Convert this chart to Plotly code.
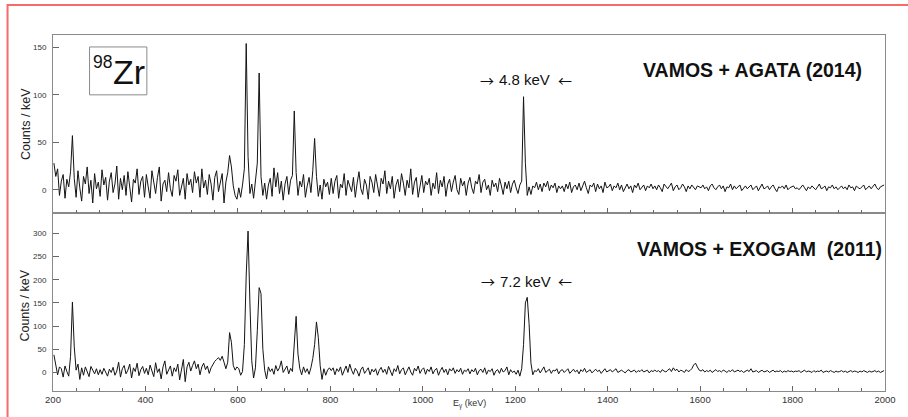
import plotly.graph_objects as go

# Histogram binning (keV)
E_MIN = 200
E_MAX = 2000
BIN_KEV = 4

# 98Zr gamma spectrum, VAMOS + AGATA (2014), counts per bin (4 keV bins from 200 keV)
agata_counts = [
    28, 14, 22, -6, 9, 16, -9, 11, 3, 19, 57, 12, -8, 20, 2, -12, 14, 6, 24, -4, 10, -14, 17, 1, 8,
    -7, 21, 5, 13, -11, 9, 18, -3, 6, 25, -10, 12, 0, 15, -6, 19, 4, -13, 11, 7, 22, -5, 9, 14, -8,
    16, 3, -9, 20, 8, -4, 13, 24, -12, 6, 10, -2, 18, 1, -7, 15, 9, 21, -6, 4, 12, -10, 17, 5, 11,
    -3, 19, 7, 14, -8, 22, 2, 10, -5, 16, 6, -11, 13, 20, -2, 9, 17, -14, 8, 18, 36, 24, 4, -6, -10,
    2, -8, 5, 22, 154, 35, -4, 6, -9, 8, 28, 123, 14, -6, 7, -10, 5, 12, -7, 23, 3, 18, -4, 9, -11,
    6, 14, -5, 10, 15, 83, 18, -6, 9, 3, 16, -8, 4, 13, -3, 20, 54, 14, -7, 5, -10, 11, 3, 8, -5,
    12, -4, 9, 15, -9, 6, 2, 17, -6, 10, 4, -2, 13, -8, 7, 19, 1, -5, 11, 5, -10, 14, 8, -3, 16,
    3, -7, 12, 6, 20, -4, 9, 1, 14, -9, 5, 11, -2, 17, 7, -6, 10, 2, 22, -5, 8, 13, -8, 4, 15,
    -3, 9, 5, 12, -6, 7, 1, 18, -4, 10, 3, 14, -7, 6, 11, -2, 8, 15, 0, -5, 12, 4, 9, -6, 7,
    13, 2, -4, 9, 6, 16, -3, 8, 11, 0, 5, -6, 10, 3, 7, -2, 12, 4, -5, 8, 1, 9, -3, 6, 10,
    2, -4, 5, 9, 98, 28, -6, 3, -5, 4, 2, 8, 0, 6, -2, 7, 3, 9, -1, 5, 2, 7, -3, 4, 1,
    4, -2, 6, 1, 8, -3, 3, 5, 0, 7, -1, 4, 9, 2, -4, 5, 3, 7, -2, 6, 1, 4, -3, 8, 2,
    3, 6, -1, 4, 2, 7, 0, 5, -2, 3, 6, 1, 4, -3, 5, 2, 7, 0, 3, 5, -1, 4, 2, 6, 1,
    4, 0, 5, 2, -2, 6, 3, 1, 4, 7, -1, 3, 5, 0, 2, 6, 3, -2, 4, 1, 5, 2, 0, 4, 3,
    2, 5, 1, 3, -1, 4, 6, 2, 0, 3, 5, 1, 4, -2, 3, 2, 6, 0, 4, 1, 3, 5, -1, 2, 4,
    1, 3, 5, 0, 2, 4, -1, 3, 6, 1, 2, 4, 0, 3, 5, 1, -2, 3, 2, 4, 1, 5, 0, 2, 3,
    4, 1, 2, 0, 3, 5, 2, -1, 3, 1, 4, 2, 0, 3, 6, 1, 2, 4, -1, 3, 2, 5, 1, 3, 0,
    2, 4, 1, 3, 0, 5, 2, 3, -1, 4, 2, 1, 3, 5, 0, 2, 4, 1, 3, 6, 2, 0, 3, 4, 5,
]

# VAMOS + EXOGAM (2011), counts per bin (4 keV bins from 200 keV)
exogam_counts = [
    38, 15, -5, 12, 8, -10, 14, 2, -8, 35, 152, 55, 5, 18, -15, 10, -6, 12, 0, -9, 13, 4, -3, 8, -5,
    6, -4, 9, 2, -8, 7, 0, 11, -6, 3, 22, -10, 8, 15, -3, 5, 18, -12, 10, 2, 20, -7, 6, 13, -2,
    9, -5, 16, 4, -9, 21, 0, 8, -14, 12, 25, -4, 6, 14, -8, 10, 2, 18, -16, 5, 28, -20, 12, 22, 3,
    15, 25, 8, 18, -5, 12, 20, 6, 14, -2, 10, 18, 24, 28, 32, 26, 35, 22, 8, 22, 86, 65, 15, 5, 12,
    8, -6, 2, 60, 210, 305, 150, 25, -12, 10, 90, 183, 170, 50, 5, -14, 12, 2, 8, -4, 15, 3, 10, 25, 0,
    6, 14, -3, 9, 2, 65, 121, 40, 8, -5, 12, 0, 8, -4, 10, 30, 60, 109, 75, 15, -15, 8, -6, 5, 10,
    4, 10, -5, 8, 2, 12, -6, 6, 14, 0, 18, 5, -4, 9, 3, -8, 6, 12, -2, 4, 10, -5, 7, 1, 8,
    -6, 5, 11, 0, 7, -4, 13, 3, -7, 8, 2, 15, -3, 6, 10, -5, 4, 12, 1, -6, 9, 3, 14, -2, 6,
    10, -4, 7, 2, 12, -3, 5, 9, -6, 4, 11, 0, 7, -5, 8, 3, 10, -2, 6, 1, 9, -4, 5, 2, 8,
    -3, 6, 1, 9, -5, 4, 7, 0, 10, -4, 5, 2, 8, -6, 3, 6, -2, 9, 1, 4, 12, -5, 6, 0, 3,
    -4, 5, -8, 8, 60, 150, 162, 105, 20, -5, 4, 2, 8, -1, 5, 12, 0, 4, 7, -2, 5, 3, 8, -3, 4,
    6, 0, 4, 8, -2, 3, 7, 1, 5, -3, 6, 2, 9, 0, 4, 6, -1, 3, 7, 2, 5, -2, 4, 8, 1,
    3, 6, 1, 4, 8, 0, 3, 5, 2, -1, 4, 6, 1, 3, 5, 0, 4, 2, 6, 1, 3, 5, -1, 4, 2,
    5, 2, 4, 0, 6, 3, 1, 5, 8, 2, 10, 4, 7, 1, 5, 3, 0, 6, 2, 4, 8, 16, 20, 12, 5,
    3, 6, 1, 4, 2, 5, 0, 3, 6, 2, 4, 1, 5, 3, 0, 4, 2, 6, 1, 3, 5, 2, 4, 0, 3,
    5, 2, 8, 1, 3, 4, 0, 2, 5, 1, 3, 4, 0, 2, 5, 1, 3, 2, 4, 0, 3, 1, 4, 2, 3,
    1, 3, 2, 4, 0, 2, 5, 1, 3, 2, 0, 4, 1, 3, 2, 5, 0, 2, 3, 1, 4, 2, 0, 3, 1,
    2, 4, 1, 3, 0, 2, 4, 1, 3, 2, 0, 3, 1, 4, 2, 0, 3, 1, 2, 4, 1, 3, 0, 2, 4,
]

x_tick_vals = [200, 400, 600, 800, 1000, 1200, 1400, 1600, 1800, 2000]
y_ticks_agata = [0, 50, 100, 150]
y_ticks_exogam = [0, 50, 100, 150, 200, 250, 300]

n_bins = (E_MAX - E_MIN) // BIN_KEV
assert len(agata_counts) == n_bins and len(exogam_counts) == n_bins

centers = [E_MIN + BIN_KEV * (i + 0.5) for i in range(n_bins)]

FONT = "Liberation Sans, Arial, Helvetica, sans-serif"
ARROW_FONT = "Noto Sans CJK SC, DejaVu Sans, sans-serif"
LINE = "rgb(20,20,20)"
FRAME = "#8a8a8a"
TICKC = "#666666"

fig = go.Figure()
fig.add_trace(go.Scatter(x=centers, y=agata_counts, mode="lines", xaxis="x2", yaxis="y2",
                         line=dict(shape="linear", color=LINE, width=1),
                         showlegend=False, hoverinfo="skip"))
fig.add_trace(go.Scatter(x=centers, y=exogam_counts, mode="lines", xaxis="x", yaxis="y",
                         line=dict(shape="linear", color=LINE, width=1),
                         showlegend=False, hoverinfo="skip"))

W, H = 908, 417
L, R, T, B = 53, 13, 35, 25
split = (392 - 213) / 357.0

common_x = dict(range=[E_MIN, E_MAX], tickvals=x_tick_vals, ticks="inside", ticklen=5,
                tickcolor=TICKC, tickwidth=1, showline=True, linecolor=FRAME, linewidth=1,
                mirror=True, showgrid=False, zeroline=False,
                minor=dict(dtick=50, tick0=200, ticks="inside", ticklen=3, tickcolor=TICKC,
                           tickwidth=1, showgrid=False))
common_y = dict(ticks="inside", ticklen=6, tickcolor=TICKC, tickwidth=1, showline=True,
                linecolor=FRAME, linewidth=1, mirror=True, showgrid=False, zeroline=False,
                tickfont=dict(family=FONT, size=8, color="#333333"), ticklabelstandoff=4)

fig.update_layout(
    width=W, height=H,
    margin=dict(l=L, r=R, t=T, b=B),
    paper_bgcolor="white", plot_bgcolor="white",
    font=dict(family=FONT, color="#222222"),
    xaxis=dict(anchor="y", domain=[0, 1], tickfont=dict(family=FONT, size=9.5, color="#333333"),
               **common_x),
    xaxis2=dict(anchor="y2", domain=[0, 1], showticklabels=False, matches="x", **common_x),
    yaxis=dict(anchor="x", domain=[0, split], range=[-40, 345], tickvals=y_ticks_exogam, **common_y),
    yaxis2=dict(anchor="x2", domain=[split, 1], range=[-24, 163], tickvals=y_ticks_agata, **common_y),
)

def px_x(px):
    return (px - L) / (W - L - R)

def px_y(py):
    return (H - B - py) / (H - T - B)

# outer red frame
fig.add_shape(type="rect", xref="paper", yref="paper",
              x0=px_x(7), x1=px_x(920), y0=px_y(430), y1=px_y(5),
              line=dict(color="rgb(248,105,105)", width=2), layer="above")

# 98Zr box
fig.add_shape(type="rect", xref="paper", yref="paper",
              x0=px_x(90), x1=px_x(148), y0=px_y(95), y1=px_y(47),
              line=dict(color=FRAME, width=1))

def ann(text, x, y, size, bold=False, color="#111111", angle=0, family=FONT):
    fig.add_annotation(text=f"<b>{text}</b>" if bold else text, x=px_x(x), y=px_y(y),
                       xref="paper", yref="paper", showarrow=False, textangle=angle,
                       xanchor="center", yanchor="middle",
                       font=dict(family=family, size=size, color=color))

ann("98", 103, 62, 17.5)
ann("Zr", 130, 72, 34)
ann("VAMOS + AGATA (2014)", 761, 70, 19.5, bold=True)
ann("VAMOS + EXOGAM\u00a0 (2011)", 768, 250, 19.5, bold=True)

# FWHM labels with arrows
ann("\u2192", 492.5, 80, 14, family=ARROW_FONT)
ann("4.8 keV", 530.5, 80, 15)
ann("\u2190", 571, 80, 14, family=ARROW_FONT)
ann("\u2192", 493, 282, 14, family=ARROW_FONT)
ann("7.2 keV", 531, 282, 15)
ann("\u2190", 571, 282, 14, family=ARROW_FONT)

ann("Counts / keV", 25, 124, 12.5, color="#222222", angle=-90)
ann("Counts / keV", 25, 306, 12.5, color="#222222", angle=-90)
ann("E<sub>\u03b3</sub> (keV)", 475, 405, 9, color="#333333")

# remove the default 8px page margin so the figure sits at the window origin
fig.write_html("out.html", config={"displayModeBar": False},
               post_script="document.body.style.margin='0';")
